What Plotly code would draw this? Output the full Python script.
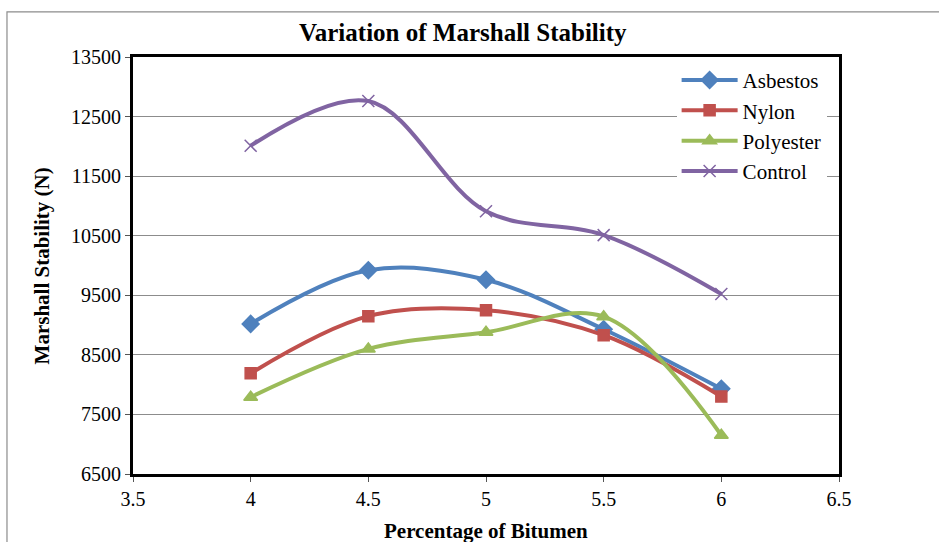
import plotly.graph_objects as go

bitumen = [4, 4.5, 5, 5.5, 6]
asbestos = [9020, 9920, 9760, 8930, 7930]
nylon = [8190, 9150, 9250, 8830, 7800]
polyester = [7790, 8600, 8880, 9140, 7150]
control = [12010, 12760, 10910, 10510, 9520]

series = [
    ("Asbestos", asbestos, "#4F81BD", "diamond", 13),
    ("Nylon", nylon, "#C0504D", "square", 11),
    ("Polyester", polyester, "#9BBB59", "triangle-up", 12),
    ("Control", control, "#8064A2", "x-thin", 12),
]

FONT = "Liberation Serif"

fig = go.Figure()
for name, vals, color, sym, size in series:
    fig.add_trace(go.Scatter(
        x=bitumen, y=vals, name=name, mode="lines+markers",
        line=dict(color=color, width=4, shape="spline", smoothing=1.0),
        marker=dict(symbol=sym, size=size, color=color,
                    line=dict(color=color, width=1.5)),
    ))

fig.update_layout(
    width=939, height=542,
    margin=dict(l=133, r=100, t=57, b=68),
    paper_bgcolor="white", plot_bgcolor="white",
    font=dict(family=FONT, size=20, color="black"),
    showlegend=True,
    legend=dict(x=0.77, y=0.993, xanchor="left", yanchor="top",
                bgcolor="white", font=dict(family=FONT, size=21),
                itemwidth=56, tracegroupgap=0),
    xaxis=dict(range=[3.5, 6.5], dtick=0.5, tick0=3.5, showgrid=False,
               showline=True, linecolor="black", linewidth=3, mirror=True,
               ticks="outside", ticklen=5, tickcolor="#555555",
               tickfont=dict(family=FONT, size=20), zeroline=False),
    yaxis=dict(range=[6500, 13500], dtick=1000, tick0=6500, showgrid=True,
               tickformat="d",
               gridcolor="#8C8C8C", gridwidth=1,
               showline=True, linecolor="black", linewidth=3, mirror=True,
               ticks="outside", ticklen=5, tickcolor="#555555",
               tickfont=dict(family=FONT, size=20), zeroline=False),
    annotations=[
        dict(text="<b>Variation of Marshall Stability</b>", xref="paper", yref="paper",
             x=0.467, y=1.0576, xanchor="center", yanchor="middle", showarrow=False,
             font=dict(family=FONT, size=25)),
        dict(text="<b>Marshall Stability (N)</b>", xref="paper", yref="paper",
             x=-0.129, y=0.5, xanchor="center", yanchor="middle", showarrow=False,
             textangle=-90, font=dict(family=FONT, size=21)),
        dict(text="<b>Percentage of Bitumen</b>", xref="paper", yref="paper",
             x=0.5, y=-0.136, xanchor="center", yanchor="middle", showarrow=False,
             font=dict(family=FONT, size=21)),
    ],
    shapes=[
        dict(type="rect", xref="paper", yref="paper", x0=-0.1785, y0=-0.3,
             x1=1.3, y1=1.108, line=dict(color="#8C8C8C", width=1.2), layer="below"),
    ],
)

fig.write_html("out.html", config={"displayModeBar": False},
               post_script="document.body.style.margin='0';document.body.style.overflow='hidden';")
